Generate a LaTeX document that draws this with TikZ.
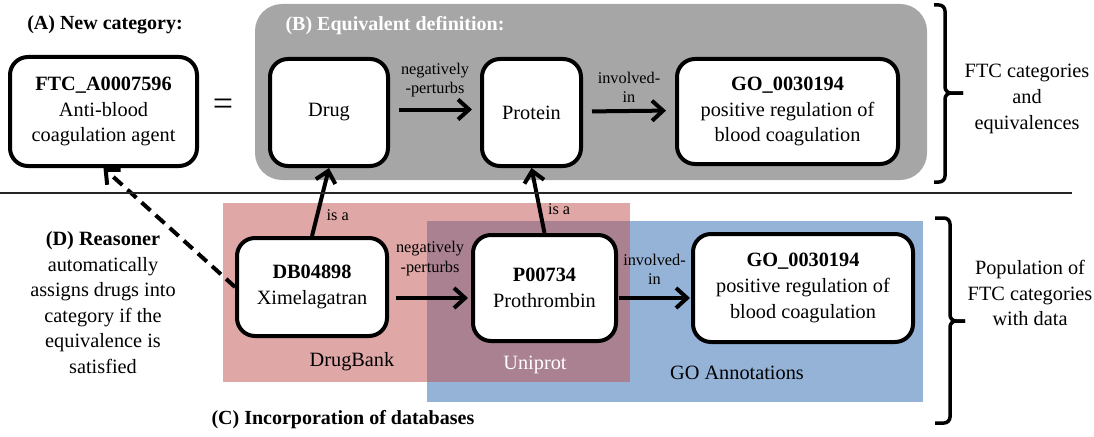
\documentclass[tikz,border=0pt]{standalone}
\usepackage{fontspec}
\setmainfont{Liberation Serif}
\usetikzlibrary{arrows.meta}
\definecolor{defgray}{HTML}{A6A6A6}
\definecolor{dbred}{HTML}{C0504D}
\definecolor{goblue}{HTML}{95B3D7}

\begin{document}
\begin{tikzpicture}[x=1pt,y=-1pt,
  txt/.style={font=\fontsize{20.3}{25.6}\selectfont, align=center},
  term/.style={txt, draw, fill=white, line width=4pt, rounded corners=18pt, inner sep=0pt},
  rel/.style={font=\fontsize{16.3}{19.5}\selectfont, align=center},
  link/.style={line width=4pt, -{Straight Barb[length=11pt,width=20pt]}},
  head/.style={font=\fontsize{20}{24}\selectfont\bfseries},
  bracket/.style={line width=3.5pt, rounded corners=6pt}]
  \useasboundingbox (0,0) rectangle (1094,436);

  % coloured areas
  \node (equiv) at (591,92) [fill=defgray, rounded corners=27pt, minimum width=672pt, minimum height=176pt] {};
  \node (goarea) at (675,311.5) [fill=goblue, minimum width=496pt, minimum height=181pt] {};
  \node (dbarea) at (426.5,292.5) [fill=dbred, fill opacity=0.5, minimum width=407pt, minimum height=179pt] {};

  % terms
  \node (ftc) at (103.5,111.5) [term, minimum width=187pt, minimum height=109pt] {\textbf{FTC\_A0007596}\\Anti-blood\\coagulation agent};
  \node (drug) at (329,112.5) [term, minimum width=118pt, minimum height=107pt] {Drug};
  \node (protein) at (531.5,112.5) [term, minimum width=99pt, minimum height=107pt] {Protein};
  \node (gotop) at (787.5,111.5) [term, minimum width=221pt, minimum height=105pt] {\textbf{GO\_0030194}\\positive regulation of\\blood coagulation};
  \node (db) at (312,287) [term, minimum width=150pt, minimum height=98pt] {\textbf{DB04898}\\Ximelagatran};
  \node (prot) at (544.5,288) [term, minimum width=143pt, minimum height=106pt] {\textbf{P00734}\\Prothrombin};
  \node (gobot) at (803,288) [term, minimum width=220pt, minimum height=108pt] {\textbf{GO\_0030194}\\positive regulation of\\blood coagulation};

  % texts
  \node (titleA) at (105,25) [head] {(A) New category:};
  \node (titleB) at (282,26) [head, anchor=west, text=white] {(B) Equivalent definition:};
  \node (titleC) at (208,420) [head, anchor=west] {(C) Incorporation of databases};
  \node (equals) at (223,107) [font=\fontsize{36}{36}\selectfont] {=};
  \node (reasoner) at (103,302.5) [txt] {\textbf{(D) Reasoner}\\automatically\\assigns drugs into\\category if the\\equivalence is\\satisfied};
  \node (drugbank) at (352,362) [txt] {DrugBank};
  \node (uniprot) at (535,365) [txt, text=white] {Uniprot};
  \node (goann) at (737,373) [txt] {GO Annotations};
  \node (toplabel) at (1027,99) [txt] {FTC categories\\and\\equivalences};
  \node (botlabel) at (1030,293) [txt] {Population of\\FTC categories\\with data};

  % relations
  \draw ([yshift=3pt]drug.east) edge[link, shorten <=9pt, shorten >=8pt] node[rel, above=7pt] {negatively\\-perturbs} ([yshift=3pt]protein.west);
  \draw ([yshift=1pt]protein.east) edge[link, shorten <=9pt, shorten >=9pt] node[rel, above=3pt] {involved-\\in} ([yshift=1pt]gotop.west);
  \draw ([yshift=-11pt]db.east) edge[link, shorten <=7pt, shorten >=3pt] node[rel, above=17pt] {negatively\\-perturbs} ([yshift=-10pt]prot.west);
  \draw ([yshift=-10pt]prot.east) edge[link, shorten <=1pt, shorten >=1pt] node[rel, above=8pt] {involved-\\in} ([yshift=-10pt]gobot.west);
  \draw (db.north) edge[link] node[rel, pos=0.31, right=4pt] {is a} (drug.south);
  \draw (prot.north) edge[link] node[rel, pos=0.37, right=3pt] {is a} (protein.south);
  \draw[link, dash pattern=on 12pt off 7pt] (db.west) -- (ftc.south);

  % separator and braces
  \draw[line width=1.5pt, black!85] (0,193) -- (1072,193);
  \draw[bracket] (934,5) -- (945,5) -- (945,93) -- (963,93);
  \draw[bracket] (934,182) -- (945,182) -- (945,93) -- (963,93);
  \draw[bracket] (935,218) -- (950,218) -- (950,321) -- (965,321);
  \draw[bracket] (935,423) -- (950,423) -- (950,321) -- (965,321);
\end{tikzpicture}
\end{document}
